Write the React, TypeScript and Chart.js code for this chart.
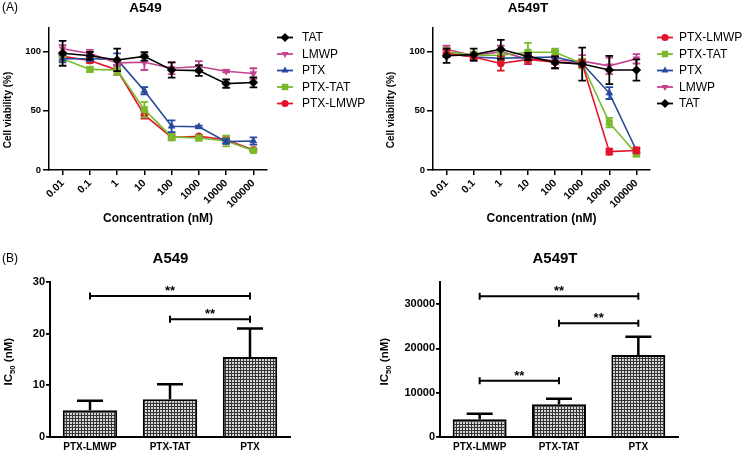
import React, { useEffect, useRef } from 'react';
import { Chart, registerables } from 'chart.js';

Chart.register(...registerables);

const FONT = '"Liberation Sans", Arial, Helvetica, sans-serif';

// ---------- Panel A: cell viability ----------
const concLabels = ['0.01', '0.1', '1', '10', '100', '1000', '10000', '100000'];
const viabilityTicks = [0, 50, 100];

// A549
const a549TAT = [98.6, 96.5, 93, 96, 84.5, 84, 73, 74];
const a549TATErr = [10.5, 3.3, 9.5, 3.5, 6.5, 4.5, 3.5, 4.2];
const a549LMWP = [102.5, 98.5, 90.5, 91, 86, 87.5, 83.5, 81.5];
const a549LMWPErr = [3, 3, 2, 6.5, 5, 4.5, 1, 4.5];
const a549PTX = [94, 94, 93.5, 67, 37, 36.5, 24, 24.5];
const a549PTXErr = [3, 2, 5, 3, 5, 1, 2, 3];
const a549PTXTAT = [94, 85, 84.5, 51, 28, 27, 24.5, 16.5];
const a549PTXTATErr = [2, 2, 4, 6.5, 3, 2, 4.5, 1];
const a549PTXLMWP = [96, 92.5, 84.5, 46.5, 27.5, 28.5, 25.5, 17];
const a549PTXLMWPErr = [3, 2, 4, 3, 2, 1, 2, 1];

// A549T
const a549tPTXLMWP = [98.5, 95.5, 90, 93.5, 91, 90, 15.5, 16.5];
const a549tPTXLMWPErr = [3, 2, 6, 4, 5, 3, 2.5, 2.5];
const a549tPTXTAT = [100, 97, 97, 99.5, 99.5, 90, 40, 13.5];
const a549tPTXTATErr = [3, 3, 3, 8, 3, 4, 4, 2];
const a549tPTX = [98.5, 95.5, 94.5, 95, 95.5, 90, 65, 16.5];
const a549tPTXErr = [3, 3, 2, 3, 5, 2, 5, 2];
const a549tLMWP = [102, 96.5, 100, 93.5, 92.5, 92, 88, 94];
const a549tLMWPErr = [3, 3, 5, 3, 3, 5, 7, 4];
const a549tTAT = [96.5, 97.5, 102, 96, 91, 89.5, 84.5, 84.5];
const a549tTATErr = [6, 5, 8, 3, 5, 14, 12, 9];

// ---------- Panel B: IC50 ----------
const ic50Groups = ['PTX-LMWP', 'PTX-TAT', 'PTX'];
const ic50A549 = [5.2, 7.3, 15.5];
const ic50A549Err = [1.8, 2.9, 5.5];
const ic50A549Ticks = [0, 10, 20, 30];
const ic50A549T = [4000, 7400, 18500];
const ic50A549TErr = [1250, 1250, 4150];
const ic50A549TTicks = [0, 10000, 20000, 30000];
// [fromIndex, toIndex, bracketValue]
const sigA549 = [[0, 2, 27.3], [1, 2, 22.8]];
const sigA549T = [[0, 2, 31800], [1, 2, 25700], [0, 1, 12700]];

const STYLE: any = {
  'TAT': { color: '#000000', point: 'rectRot', rot: 0, r: 4.5 },
  'LMWP': { color: '#c4428e', point: 'triangle', rot: 180, r: 4 },
  'PTX': { color: '#27489b', point: 'triangle', rot: 0, r: 4 },
  'PTX-TAT': { color: '#79b92b', point: 'rect', rot: 0, r: 4.6 },
  'PTX-LMWP': { color: '#e3132c', point: 'circle', rot: 0, r: 3.6 },
};

const f = (size: number, bold = true) => `${bold ? 'bold ' : ''}${size}px ${FONT}`;

function drawMarker(ctx: any, style: string, x: number, y: number, r: number, rotDeg: number) {
  ctx.beginPath();
  if (style === 'circle') {
    ctx.arc(x, y, r, 0, Math.PI * 2);
  } else if (style === 'rect') {
    const s = Math.SQRT1_2 * r;
    ctx.rect(x - s, y - s, 2 * s, 2 * s);
  } else if (style === 'rectRot') {
    ctx.moveTo(x - r, y);
    ctx.lineTo(x, y - r);
    ctx.lineTo(x + r, y);
    ctx.lineTo(x, y + r);
    ctx.closePath();
  } else if (style === 'triangle') {
    let rad = (rotDeg * Math.PI) / 180;
    const c = r;
    ctx.moveTo(x + Math.sin(rad) * c, y - Math.cos(rad) * c);
    rad += (2 * Math.PI) / 3;
    ctx.lineTo(x + Math.sin(rad) * c, y - Math.cos(rad) * c);
    rad += (2 * Math.PI) / 3;
    ctx.lineTo(x + Math.sin(rad) * c, y - Math.cos(rad) * c);
    ctx.closePath();
  }
  ctx.fill();
}

const errorBarsPlugin = {
  id: 'errorBars',
  afterDatasetDraw(chart: any, args: any) {
    const ds = chart.data.datasets[args.index];
    const errs = ds.errors;
    if (!errs) return;
    const y = chart.scales.y;
    const ctx = chart.ctx;
    ctx.save();
    ctx.strokeStyle = ds.errorColor || ds.borderColor;
    ctx.lineWidth = ds.errorWidth || 1.8;
    args.meta.data.forEach((el: any, i: number) => {
      const v = ds.data[i];
      const e = errs[i];
      const x = el.x;
      const top = y.getPixelForValue(v + e);
      const bot = y.getPixelForValue(ds.errorUpOnly ? v : v - e);
      const cap = ds.errorCap || 4;
      ctx.beginPath();
      ctx.moveTo(x, top);
      ctx.lineTo(x, bot);
      ctx.moveTo(x - cap, top);
      ctx.lineTo(x + cap, top);
      if (!ds.errorUpOnly) {
        ctx.moveTo(x - cap, bot);
        ctx.lineTo(x + cap, bot);
      }
      ctx.stroke();
    });
    ctx.restore();
  },
};

function decorPlugin(cfg: any) {
  return {
    id: 'decor',
    afterDraw(chart: any) {
      const ctx = chart.ctx;
      const area = chart.chartArea;
      ctx.save();
      ctx.fillStyle = '#000';
      if (cfg.panel) {
        ctx.font = f(12, false);
        ctx.textAlign = 'left';
        ctx.textBaseline = 'middle';
        ctx.fillText(cfg.panel.text, cfg.panel.x, cfg.panel.y);
      }
      if (cfg.title) {
        ctx.font = f(cfg.title.size);
        ctx.textAlign = 'center';
        ctx.textBaseline = 'middle';
        ctx.fillText(cfg.title.text, cfg.title.x, cfg.title.y);
      }
      if (cfg.yTitle) {
        const yt = cfg.yTitle;
        ctx.save();
        ctx.translate(yt.x, yt.y);
        ctx.rotate(-Math.PI / 2);
        ctx.textAlign = 'left';
        ctx.textBaseline = 'middle';
        let total = 0;
        const parts = yt.parts.map((p: any) => {
          ctx.font = f(p.sub ? yt.size * 0.68 : yt.size);
          const w = ctx.measureText(p.text).width;
          total += w;
          return { ...p, w };
        });
        let x = -total / 2;
        parts.forEach((p: any) => {
          ctx.font = f(p.sub ? yt.size * 0.68 : yt.size);
          ctx.fillText(p.text, x, p.sub ? yt.size * 0.3 : 0);
          x += p.w;
        });
        ctx.restore();
      }
      if (cfg.legend) {
        const lg = cfg.legend;
        chart.data.datasets.forEach((ds: any, i: number) => {
          const st = STYLE[ds.label];
          const y = lg.y0 + i * lg.step;
          const x0 = area.right + lg.lx;
          ctx.strokeStyle = st.color;
          ctx.fillStyle = st.color;
          ctx.lineWidth = 1.8;
          ctx.beginPath();
          ctx.moveTo(x0, y);
          ctx.lineTo(x0 + 16, y);
          ctx.stroke();
          drawMarker(ctx, st.point, x0 + 8, y, st.r, st.rot);
          ctx.fillStyle = '#000';
          ctx.font = f(12, false);
          ctx.textAlign = 'left';
          ctx.textBaseline = 'middle';
          ctx.fillText(ds.label, area.right + lg.tx, y + 0.5);
        });
      }
      ctx.restore();
    },
  };
}

function sigPlugin(pairs: number[][]) {
  return {
    id: 'sig',
    afterDatasetsDraw(chart: any) {
      const ctx = chart.ctx;
      const xs = chart.scales.x;
      const ys = chart.scales.y;
      ctx.save();
      ctx.strokeStyle = '#000';
      ctx.fillStyle = '#000';
      ctx.lineWidth = 2;
      pairs.forEach(([a, b, v]) => {
        const x1 = xs.getPixelForValue(a);
        const x2 = xs.getPixelForValue(b);
        const y = ys.getPixelForValue(v);
        ctx.beginPath();
        ctx.moveTo(x1, y);
        ctx.lineTo(x2, y);
        ctx.moveTo(x1, y - 3.5);
        ctx.lineTo(x1, y + 3.5);
        ctx.moveTo(x2, y - 3.5);
        ctx.lineTo(x2, y + 3.5);
        ctx.stroke();
        ctx.font = f(13);
        ctx.textAlign = 'center';
        ctx.textBaseline = 'alphabetic';
        ctx.fillText('**', (x1 + x2) / 2, y - 1);
      });
      ctx.restore();
    },
  };
}

function lineConfig(series: any[], lay: any, decor: any) {
  return {
    type: 'line',
    data: {
      labels: concLabels,
      datasets: series.map((s: any, i: number) => {
        const st = STYLE[s.name];
        return {
          label: s.name,
          data: s.values,
          errors: s.errors,
          errorCap: 3.8,
          errorWidth: 1.8,
          borderColor: st.color,
          backgroundColor: st.color,
          pointBackgroundColor: st.color,
          pointBorderColor: st.color,
          borderWidth: 1.6,
          pointStyle: st.point,
          pointRotation: st.rot,
          pointRadius: st.r,
          pointBorderWidth: 0.5,
          tension: 0,
          fill: false,
          order: s.name === 'TAT' ? 0 : i + 1,
        };
      }),
    },
    options: {
      responsive: false,
      animation: false,
      devicePixelRatio: 1,
      events: [],
      layout: { padding: { left: 0, top: lay.top, right: lay.right, bottom: 0 } },
      plugins: { legend: { display: false }, tooltip: { enabled: false }, title: { display: false } },
      scales: {
        x: {
          type: 'category',
          offset: true,
          grid: { display: true, drawOnChartArea: false, drawTicks: true, tickLength: 5, color: '#000', lineWidth: 1.5 },
          border: { display: true, color: '#000', width: 1.5 },
          ticks: {
            autoSkip: false,
            minRotation: 45,
            maxRotation: 45,
            padding: 2,
            color: '#000',
            font: { family: FONT, size: 10.5, weight: 'bold' },
          },
          title: {
            display: true,
            text: 'Concentration (nM)',
            color: '#000',
            font: { family: FONT, size: 12, weight: 'bold' },
            padding: { top: 0, bottom: 6 },
          },
          afterFit: (s: any) => { s.height = lay.xh; },
        },
        y: {
          min: 0,
          max: 120,
          afterBuildTicks: (s: any) => { s.ticks = viabilityTicks.map((v) => ({ value: v })); },
          grid: { display: true, drawOnChartArea: false, drawTicks: true, tickLength: 6, color: '#000', lineWidth: 1.5 },
          border: { display: true, color: '#000', width: 1.5 },
          ticks: { padding: 2, color: '#000', font: { family: FONT, size: 9.5, weight: 'bold' } },
          afterFit: (s: any) => { s.width = lay.left; },
        },
      },
    },
    plugins: [errorBarsPlugin, decorPlugin(decor)],
  };
}

function barConfig(ctx: any, values: number[], errs: number[], ticks: number[], ymax: number, pairs: number[][], lay: any, decor: any) {
  const tile = document.createElement('canvas');
  tile.width = 3;
  tile.height = 3;
  const g = tile.getContext('2d') as CanvasRenderingContext2D;
  g.fillStyle = '#d6d6d6';
  g.fillRect(0, 0, 3, 3);
  g.fillStyle = '#353535';
  g.fillRect(0, 0, 3, 1);
  g.fillRect(0, 0, 1, 3);
  const pattern = ctx.createPattern(tile, 'repeat');
  return {
    type: 'bar',
    data: {
      labels: ic50Groups,
      datasets: [
        {
          label: 'IC50',
          data: values,
          errors: errs,
          errorUpOnly: true,
          errorCap: 13,
          errorWidth: 2.5,
          errorColor: '#000',
          backgroundColor: pattern,
          borderColor: '#000',
          borderWidth: 2,
          barPercentage: 0.68,
          categoryPercentage: 1,
        },
      ],
    },
    options: {
      responsive: false,
      animation: false,
      devicePixelRatio: 1,
      events: [],
      layout: { padding: { left: 0, top: lay.top, right: lay.right, bottom: 0 } },
      plugins: { legend: { display: false }, tooltip: { enabled: false }, title: { display: false } },
      scales: {
        x: {
          grid: { display: false, drawTicks: false },
          border: { display: true, color: '#000', width: 2 },
          ticks: { padding: 4, color: '#000', font: { family: FONT, size: 10, weight: 'bold' } },
          afterFit: (s: any) => { s.height = lay.xh; },
        },
        y: {
          min: 0,
          max: ymax,
          afterBuildTicks: (s: any) => { s.ticks = ticks.map((v) => ({ value: v })); },
          grid: { display: true, drawOnChartArea: false, drawTicks: true, tickLength: 4, color: '#000', lineWidth: 1.8 },
          border: { display: true, color: '#000', width: 2 },
          ticks: {
            padding: 1,
            color: '#000',
            font: { family: FONT, size: 11, weight: 'bold' },
            callback: (v: any) => String(v),
          },
          afterFit: (s: any) => { s.width = lay.left; },
        },
      },
    },
    plugins: [errorBarsPlugin, sigPlugin(pairs), decorPlugin(decor)],
  };
}

function ChartCanvas({ left, top, width, height, make }: any) {
  const ref = useRef<HTMLCanvasElement>(null);
  useEffect(() => {
    const canvas = ref.current as HTMLCanvasElement;
    const chart = new Chart(canvas, make(canvas.getContext('2d')));
    return () => chart.destroy();
  }, []);
  return (
    <canvas
      ref={ref}
      width={width}
      height={height}
      style={{ position: 'absolute', left, top, width, height, display: 'block' }}
    />
  );
}

const yViability = [{ text: 'Cell viability (%)' }];
const yIC50 = [{ text: 'IC' }, { text: '50', sub: true }, { text: ' (nM)' }];

export default function App() {
  return (
    <div style={{ position: 'absolute', left: 0, top: 0, width: 745, height: 455, background: '#fff', overflow: 'hidden' }}>
      <ChartCanvas
        left={0} top={0} width={372} height={232}
        make={() =>
          lineConfig(
            [
              { name: 'TAT', values: a549TAT, errors: a549TATErr },
              { name: 'LMWP', values: a549LMWP, errors: a549LMWPErr },
              { name: 'PTX', values: a549PTX, errors: a549PTXErr },
              { name: 'PTX-TAT', values: a549PTXTAT, errors: a549PTXTATErr },
              { name: 'PTX-LMWP', values: a549PTXLMWP, errors: a549PTXLMWPErr },
            ],
            { top: 28, right: 105, left: 49, xh: 62 },
            {
              panel: { text: '(A)', x: 2, y: 8 },
              title: { text: 'A549', x: 145.5, y: 8, size: 13.5 },
              yTitle: { parts: yViability, x: 8, y: 110, size: 10 },
              legend: { y0: 37.5, step: 16.5, lx: 10, tx: 35 },
            }
          )
        }
      />
      <ChartCanvas
        left={372} top={0} width={373} height={232}
        make={() =>
          lineConfig(
            [
              { name: 'PTX-LMWP', values: a549tPTXLMWP, errors: a549tPTXLMWPErr },
              { name: 'PTX-TAT', values: a549tPTXTAT, errors: a549tPTXTATErr },
              { name: 'PTX', values: a549tPTX, errors: a549tPTXErr },
              { name: 'LMWP', values: a549tLMWP, errors: a549tLMWPErr },
              { name: 'TAT', values: a549tTAT, errors: a549tTATErr },
            ],
            { top: 28, right: 95, left: 61, xh: 62 },
            {
              title: { text: 'A549T', x: 156, y: 8, size: 13.5 },
              yTitle: { parts: yViability, x: 19, y: 110, size: 10 },
              legend: { y0: 37.5, step: 16.5, lx: 7, tx: 29 },
            }
          )
        }
      />
      <ChartCanvas
        left={0} top={232} width={372} height={223}
        make={(ctx: any) =>
          barConfig(ctx, ic50A549, ic50A549Err, ic50A549Ticks, 30, sigA549,
            { top: 50, right: 82, left: 50, xh: 18 },
            {
              panel: { text: '(B)', x: 2, y: 27 },
              title: { text: 'A549', x: 170.5, y: 26.7, size: 15 },
              yTitle: { parts: yIC50, x: 9, y: 129.7, size: 11.5 },
            })
        }
      />
      <ChartCanvas
        left={372} top={232} width={373} height={223}
        make={(ctx: any) =>
          barConfig(ctx, ic50A549T, ic50A549TErr, ic50A549TTicks, 35000, sigA549T,
            { top: 50, right: 67, left: 68, xh: 18 },
            {
              title: { text: 'A549T', x: 183, y: 26.7, size: 15 },
              yTitle: { parts: yIC50, x: 13, y: 129.7, size: 11.5 },
            })
        }
      />
    </div>
  );
}
